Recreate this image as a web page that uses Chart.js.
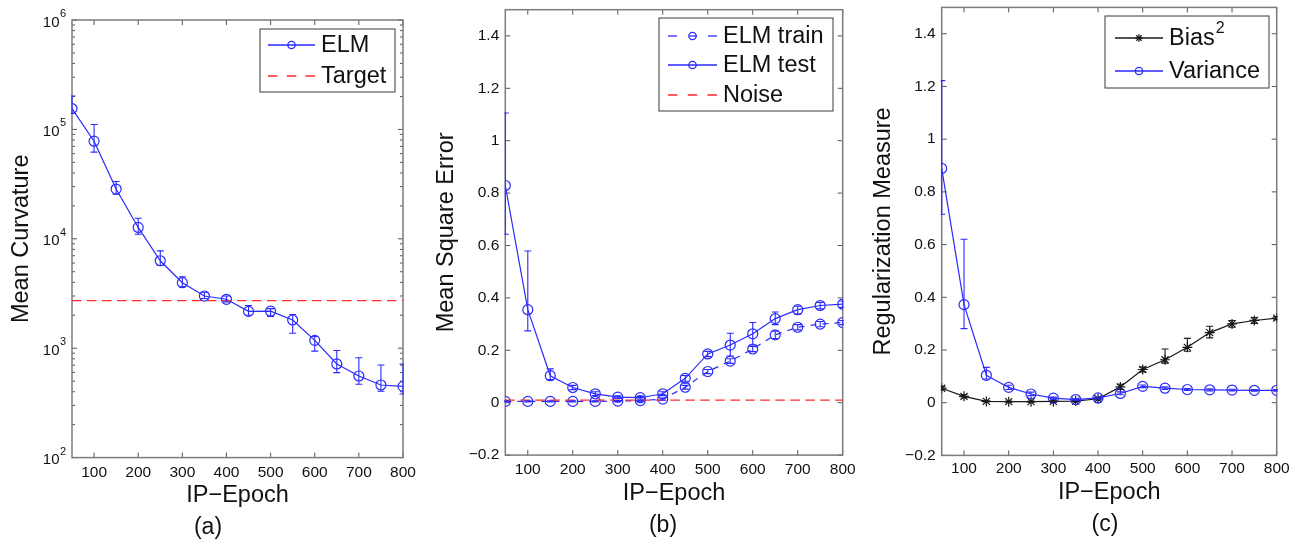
<!DOCTYPE html>
<html>
<head>
<meta charset="utf-8">
<script src="https://cdn.jsdelivr.net/npm/chart.js@4.4.1/dist/chart.umd.min.js"></script>
<style>
  body { margin: 0; background: #fff; width: 1300px; height: 542px; overflow: hidden; position: relative;
         font-family: "Liberation Sans", Arial, sans-serif; }
  canvas { position: absolute; top: 0; }
  .cap { position: absolute; width: 60px; text-align: center; font-size: 23px; line-height: 27px; color: #111; }
</style>
</head>
<body>
<canvas id="chartA" width="430" height="542" style="left:0"></canvas>
<canvas id="chartB" width="430" height="542" style="left:430px"></canvas>
<canvas id="chartC" width="440" height="542" style="left:860px"></canvas>
<div class="cap" style="left:178px; top:513px">(a)</div>
<div class="cap" style="left:633px; top:511px">(b)</div>
<div class="cap" style="left:1075px; top:510px">(c)</div>
<script>
const epochs = [50, 100, 150, 200, 250, 300, 350, 400, 450, 500, 550, 600, 650, 700, 750, 800];
const epochTicks = [100, 200, 300, 400, 500, 600, 700, 800];

// (a) mean curvature
const curvMean = [155000, 78000, 28500, 12700, 6300, 3970, 3000, 2800, 2170, 2180, 1810, 1180, 718, 557, 461, 448];
const curvHi   = [202000, 111000, 33400, 15400, 7750, 4490, 3250, 3000, 2460, 2300, 2030, 1280, 953, 818, 702, 718];
const curvLo   = [140000, 62000, 25500, 11000, 5700, 3650, 2850, 2650, 2000, 1950, 1370, 940, 598, 468, 404, 381];
const targetX = [50, 800];
const targetCurv = [2720, 2720];
const curvTicks = [1e2, 1e3, 1e4, 1e5, 1e6];

// (b) mean square error
const mseTrain   = [0.005, 0.005, 0.005, 0.005, 0.005, 0.006, 0.008, 0.014, 0.059, 0.119, 0.159, 0.205, 0.259, 0.288, 0.300, 0.306];
const mseTrainHi = [0.007, 0.007, 0.007, 0.007, 0.007, 0.008, 0.010, 0.018, 0.066, 0.127, 0.168, 0.215, 0.273, 0.298, 0.310, 0.314];
const mseTrainLo = [0.003, 0.003, 0.003, 0.003, 0.003, 0.004, 0.006, 0.010, 0.052, 0.111, 0.150, 0.195, 0.245, 0.278, 0.290, 0.298];
const mseTest   = [0.829, 0.355, 0.103, 0.058, 0.034, 0.021, 0.019, 0.034, 0.093, 0.186, 0.220, 0.263, 0.321, 0.355, 0.371, 0.376];
const mseTestHi = [1.106, 0.579, 0.129, 0.066, 0.042, 0.026, 0.024, 0.042, 0.104, 0.196, 0.265, 0.306, 0.346, 0.368, 0.383, 0.388];
const mseTestLo = [0.643, 0.274, 0.088, 0.050, 0.027, 0.016, 0.014, 0.027, 0.082, 0.176, 0.178, 0.220, 0.298, 0.338, 0.358, 0.364];
const noiseX = [50, 800];
const noiseMSE = [0.01, 0.01];
const mseTicks = [-0.2, 0, 0.2, 0.4, 0.6, 0.8, 1, 1.2, 1.4];

// (c) bias / variance
const bias2   = [0.055, 0.024, 0.005, 0.004, 0.004, 0.005, 0.006, 0.015, 0.060, 0.126, 0.163, 0.210, 0.266, 0.299, 0.312, 0.321];
const bias2Hi = [0.062, 0.030, 0.007, 0.006, 0.006, 0.007, 0.008, 0.019, 0.070, 0.135, 0.204, 0.244, 0.290, 0.312, 0.323, 0.327];
const bias2Lo = [0.048, 0.018, 0.003, 0.002, 0.002, 0.003, 0.004, 0.011, 0.050, 0.117, 0.150, 0.195, 0.246, 0.286, 0.301, 0.315];
const variance   = [0.889, 0.372, 0.104, 0.058, 0.033, 0.017, 0.012, 0.018, 0.035, 0.062, 0.055, 0.050, 0.049, 0.048, 0.047, 0.047];
const varianceHi = [1.222, 0.620, 0.134, 0.066, 0.040, 0.021, 0.015, 0.022, 0.041, 0.067, 0.060, 0.054, 0.053, 0.051, 0.050, 0.050];
const varianceLo = [0.715, 0.281, 0.090, 0.050, 0.027, 0.013, 0.009, 0.014, 0.030, 0.057, 0.050, 0.046, 0.045, 0.045, 0.044, 0.044];
const regTicks = [-0.2, 0, 0.2, 0.4, 0.6, 0.8, 1, 1.2, 1.4];

const BLUE = 'rgb(42,42,255)';
const RED = 'rgb(255,42,42)';
const BLACK = 'rgb(26,26,26)';
const FONT = '"Liberation Sans", Arial, sans-serif';

Chart.defaults.font.family = FONT;
Chart.defaults.color = '#111';

const pts = (xs, ys) => xs.map((x, i) => ({x: x, y: ys[i]}));

// legend layout per canvas, kept outside the chart options
const legendSpecs = {};

function seg(ctx, x1, y1, x2, y2) {
    ctx.beginPath();
    ctx.moveTo(x1, y1);
    ctx.lineTo(x2, y2);
    ctx.stroke();
}

// vertical error bars with caps, clipped to the axes
const errorBars = {
    id: 'errorBars',
    afterDatasetsDraw(chart) {
        const {ctx, chartArea: a, scales: {x, y}} = chart;
        ctx.save();
        ctx.beginPath();
        ctx.rect(a.left - 1, a.top, a.width + 2, a.height);
        ctx.clip();
        chart.data.datasets.forEach(ds => {
            if (!ds.errHi) return;
            ctx.strokeStyle = ds.borderColor;
            ctx.lineWidth = 1.1;
            ctx.setLineDash([]);
            ds.data.forEach((p, i) => {
                const px = x.getPixelForValue(p.x);
                const hi = y.getPixelForValue(ds.errHi[i]);
                const lo = y.getPixelForValue(ds.errLo[i]);
                seg(ctx, px, hi, px, lo);
                seg(ctx, px - 3.5, hi, px + 3.5, hi);
                seg(ctx, px - 3.5, lo, px + 3.5, lo);
            });
        });
        ctx.restore();
    }
};

// box around the axes with inward ticks on all four sides
const frame = {
    id: 'frame',
    beforeDatasetsDraw(chart, args, opts) {
        const {ctx, chartArea: a, scales: {x, y}} = chart;
        ctx.save();
        ctx.strokeStyle = '#555';
        ctx.lineWidth = 1;
        x.ticks.forEach(t => {
            const px = x.getPixelForValue(t.value);
            seg(ctx, px, a.bottom, px, a.bottom - 5);
            seg(ctx, px, a.top, px, a.top + 5);
        });
        y.ticks.forEach(t => {
            const py = y.getPixelForValue(t.value);
            seg(ctx, a.left, py, a.left + 5, py);
            seg(ctx, a.right, py, a.right - 5, py);
        });
        if (opts.logLabels) {
            // minor ticks between decades
            for (let d = 0; d < y.ticks.length - 1; d++) {
                const base = y.ticks[d].value;
                for (let m = 2; m <= 9; m++) {
                    const py = y.getPixelForValue(base * m);
                    seg(ctx, a.left, py, a.left + 3, py);
                    seg(ctx, a.right, py, a.right - 3, py);
                }
            }
            ctx.fillStyle = '#111';
            ctx.textBaseline = 'middle';
            y.ticks.forEach(t => {
                const py = y.getPixelForValue(t.value);
                const ex = Math.round(Math.log10(t.value));
                ctx.font = '15px ' + FONT;
                ctx.textAlign = 'right';
                ctx.fillText('10', a.left - 12.5, py + 2.5);
                ctx.font = '11px ' + FONT;
                ctx.textAlign = 'left';
                ctx.fillText(String(ex), a.left - 12, py - 6);
            });
        }
        ctx.strokeStyle = '#7c7c7c';
        ctx.lineWidth = 1.5;
        ctx.strokeRect(a.left, a.top, a.width, a.height);
        ctx.restore();
    }
};

function drawSample(ctx, spec, it, yy) {
    const mid = (spec.x1 + spec.x2) / 2;
    ctx.save();
    ctx.strokeStyle = it.stroke;
    ctx.lineWidth = 1.3;
    if (it.segs) {
        it.segs.forEach(s => seg(ctx, spec.x1 + s[0], yy, spec.x1 + s[1], yy));
    } else {
        ctx.setLineDash(it.dash ? it.dash : []);
        seg(ctx, spec.x1, yy, spec.x2, yy);
        ctx.setLineDash([]);
    }
    if (it.marker === 'circle') {
        ctx.beginPath();
        ctx.arc(mid, yy, 3.7, 0, Math.PI * 2);
        ctx.stroke();
    } else if (it.marker === 'star') {
        const r = 3.8, q = r * Math.SQRT1_2;
        seg(ctx, mid - r, yy, mid + r, yy);
        seg(ctx, mid, yy - r, mid, yy + r);
        seg(ctx, mid - q, yy - q, mid + q, yy + q);
        seg(ctx, mid - q, yy + q, mid + q, yy - q);
    }
    ctx.restore();
}

// legend box drawn inside the upper right corner
const boxLegend = {
    id: 'boxLegend',
    afterDraw(chart) {
        const spec = legendSpecs[chart.canvas.id];
        if (!spec) return;
        const ctx = chart.ctx;
        const [bx, by, bw, bh] = spec.box;
        ctx.save();
        ctx.fillStyle = '#fff';
        ctx.fillRect(bx, by, bw, bh);
        ctx.strokeStyle = '#3a3a3a';
        ctx.lineWidth = 1;
        ctx.strokeRect(bx, by, bw, bh);
        ctx.restore();
        for (let i = 0; i < spec.items.length; i++) {
            const it = spec.items[i];
            const yy = spec.rows[i];
            drawSample(ctx, spec, it, yy);
            ctx.save();
            ctx.fillStyle = '#111';
            ctx.textBaseline = 'middle';
            ctx.textAlign = 'left';
            ctx.font = '23.5px ' + FONT;
            ctx.fillText(it.label, spec.textX, yy + 1);
            if (it.sup) {
                const w = ctx.measureText(it.label).width;
                ctx.font = '16px ' + FONT;
                ctx.fillText(it.sup, spec.textX + w + 1, yy - 9);
            }
            ctx.restore();
        }
    }
};

function tickText(v) {
    return v < 0 ? '\u2212' + Math.abs(v) : String(v);
}

function makePanel(id, g, yScale, yTitle, datasets, legend, logLabels) {
    legendSpecs[id] = legend;
    yScale.afterFit = s => { s.width = g.yWidth; s.paddingTop = 0; s.paddingBottom = 0; };
    yScale.grid = {display: false, drawTicks: false};
    yScale.border = {display: false};
    yScale.title = {display: true, text: yTitle, font: {size: 23.5}, color: '#111',
                    padding: {top: g.yTitlePad, bottom: 0}};
    return new Chart(document.getElementById(id), {
        type: 'line',
        data: {datasets: datasets},
        options: {
            responsive: false,
            animation: false,
            events: [],
            layout: {padding: {left: 0, right: g.padRight, top: g.padTop, bottom: 0}},
            plugins: {
                legend: {display: false},
                tooltip: {enabled: false},
                frame: {logLabels: logLabels}
            },
            scales: {
                x: {
                    type: 'linear',
                    min: 50,
                    max: 800,
                    afterBuildTicks: s => { s.ticks = epochTicks.map(v => ({value: v})); },
                    afterFit: s => { s.height = g.xHeight; s.paddingLeft = 0; s.paddingRight = 0; },
                    grid: {display: false, drawTicks: false},
                    border: {display: false},
                    ticks: {padding: g.xTickPad, font: {size: 15.5}, color: '#111', maxRotation: 0, autoSkip: false},
                    title: {display: true, text: 'IP\u2212Epoch', font: {size: 23.5}, color: '#111',
                            padding: {top: 0, bottom: g.xTitlePad}}
                },
                y: yScale
            }
        },
        plugins: [frame, errorBars, boxLegend]
    });
}

const lineStyle = (color, extra) => Object.assign({
    borderColor: color,
    borderWidth: 1.2,
    pointStyle: 'circle',
    pointRadius: 5,
    pointBorderWidth: 1.2,
    pointBorderColor: color,
    pointBackgroundColor: 'rgba(0,0,0,0)',
    tension: 0,
    fill: false
}, extra);

// (a)
makePanel('chartA',
    {yWidth: 72, padTop: 20, padRight: 27, xHeight: 84.4, xTickPad: 5.5, xTitlePad: 32.4, yTitlePad: 7.6},
    {
        type: 'logarithmic',
        min: 100,
        max: 1e6,
        afterBuildTicks: s => { s.ticks = curvTicks.map(v => ({value: v})); },
        ticks: {display: false}
    },
    'Mean Curvature',
    [
        lineStyle(BLUE, {label: 'ELM', data: pts(epochs, curvMean), errHi: curvHi, errLo: curvLo, order: 1}),
        lineStyle(RED, {label: 'Target', data: pts(targetX, targetCurv), pointRadius: 0, borderDash: [9.5, 5.5], order: 0})
    ],
    {
        box: [260, 29, 135, 63], x1: 268, x2: 315, textX: 321, rows: [45, 76],
        items: [
            {label: 'ELM', stroke: BLUE, marker: 'circle'},
            {label: 'Target', stroke: RED, dash: [9.5, 9.25]}
        ]
    },
    true
);

const linearY = ticks => ({
    type: 'linear',
    min: -0.2,
    max: 1.5,
    afterBuildTicks: s => { s.ticks = ticks.map(v => ({value: v})); },
    ticks: {padding: 6, font: {size: 15.5}, color: '#111', callback: v => tickText(v)}
});

// (b)
makePanel('chartB',
    {yWidth: 75.3, padTop: 9.7, padRight: 17.3, xHeight: 86.9, xTickPad: 5.2, xTitlePad: 34, yTitlePad: 2.6},
    linearY(mseTicks),
    'Mean Square Error',
    [
        lineStyle(BLUE, {label: 'ELM train', data: pts(epochs, mseTrain), errHi: mseTrainHi, errLo: mseTrainLo,
                         borderDash: [6, 6], order: 2}),
        lineStyle(BLUE, {label: 'ELM test', data: pts(epochs, mseTest), errHi: mseTestHi, errLo: mseTestLo, order: 1}),
        lineStyle(RED, {label: 'Noise', data: pts(noiseX, noiseMSE), pointRadius: 0, borderDash: [9.5, 5.5], order: 0})
    ],
    {
        box: [229, 18, 174, 93], x1: 238, x2: 287, textX: 293, rows: [36, 65, 95],
        items: [
            {label: 'ELM train', stroke: BLUE, marker: 'circle', segs: [[0, 9], [21.5, 29], [40, 49]]},
            {label: 'ELM test', stroke: BLUE, marker: 'circle'},
            {label: 'Noise', stroke: RED, dash: [9.5, 10.25]}
        ]
    },
    false
);

// (c)
makePanel('chartC',
    {yWidth: 81.7, padTop: 7.4, padRight: 23.3, xHeight: 86.6, xTickPad: 4.4, xTitlePad: 35.8, yTitlePad: 9.2},
    linearY(regTicks),
    'Regularization Measure',
    [
        lineStyle(BLACK, {label: 'Bias2', data: pts(epochs, bias2), errHi: bias2Hi, errLo: bias2Lo,
                          pointStyle: 'star', pointRadius: 5, order: 1}),
        lineStyle(BLUE, {label: 'Variance', data: pts(epochs, variance), errHi: varianceHi, errLo: varianceLo, order: 0})
    ],
    {
        box: [245, 16, 164, 72], x1: 255, x2: 303, textX: 309, rows: [38, 71],
        items: [
            {label: 'Bias', sup: '2', stroke: BLACK, marker: 'star'},
            {label: 'Variance', stroke: BLUE, marker: 'circle'}
        ]
    },
    false
);
</script>
</body>
</html>
